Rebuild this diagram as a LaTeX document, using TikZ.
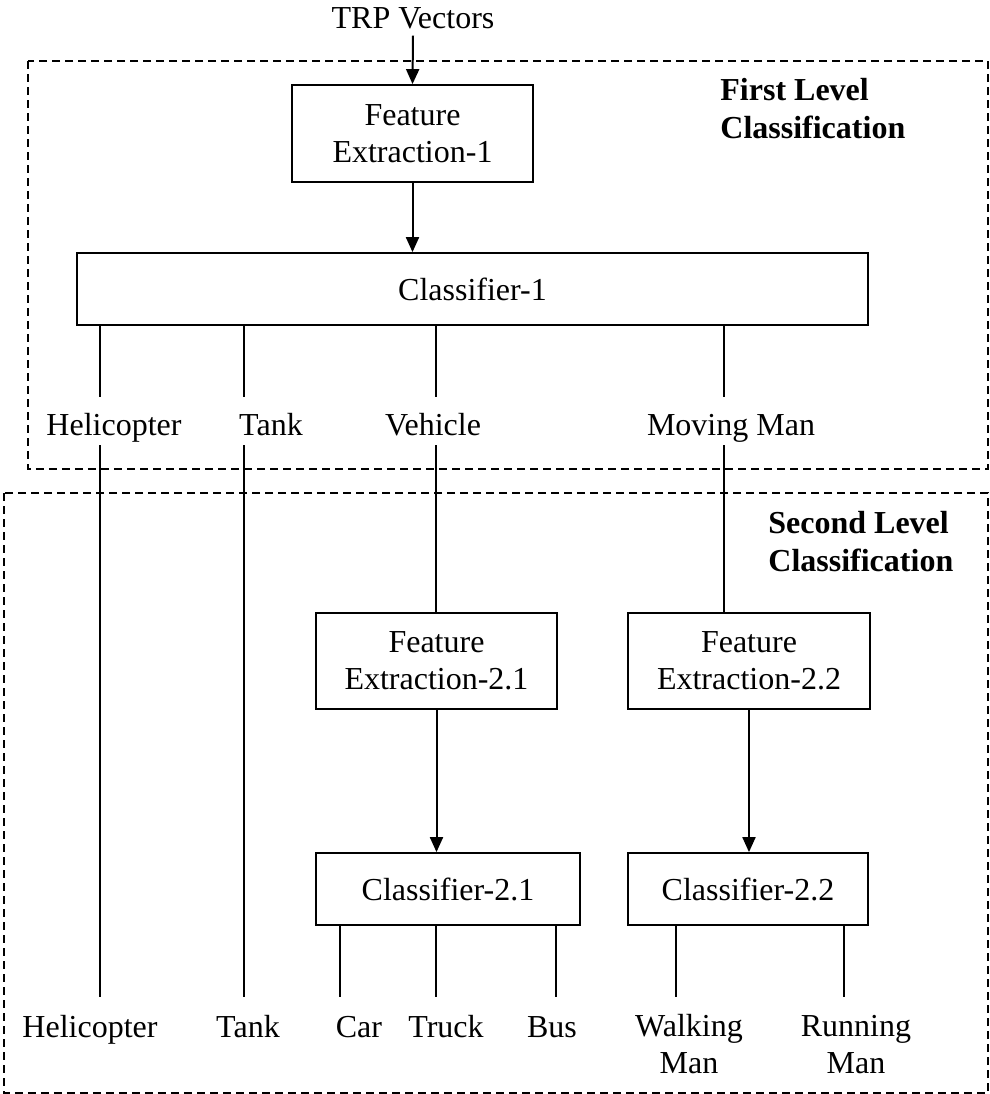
\documentclass[tikz,border=0pt]{standalone}
\usepackage{fontspec}
\setmainfont{Liberation Serif}
\usetikzlibrary{arrows.meta}
\begin{document}
\begin{tikzpicture}[x=0.5pt,y=-0.5pt,
  every node/.style={font=\fontsize{16}{18.5}\selectfont},
  boxnode/.style={draw,line width=0.9pt,align=center,inner sep=0pt},
  lbl/.style={anchor=base,inner sep=0pt,align=center},
  title/.style={anchor=base west,inner sep=0pt,align=left,font=\fontsize{16}{18.8}\selectfont\bfseries},
  link/.style={line width=0.75pt},
  arr/.style={line width=1pt,-{Triangle[width=6.5pt,length=7.5pt]}},
  frame/.style={line width=0.8pt,dash pattern=on 4pt off 2.5pt}]
\useasboundingbox (0,0) rectangle (990,1094);
% frames
\draw[frame] (28,61) rectangle (988,469);
\draw[frame] (4,493) rectangle (988,1093);
\node[title] (t1) at (720,138) {First Level\\Classification};
\node[title] (t2) at (768,571) {Second Level\\Classification};
% top
\node[anchor=base] (trp) at (413,28) {TRP Vectors};
\node[boxnode,minimum width=120.5pt,minimum height=48.5pt] (fe1) at (412.5,133.5) {Feature\\Extraction-1};
\node[boxnode,minimum width=395.5pt,minimum height=36pt] (c1) at (472.5,289) {Classifier-1};
\draw[arr] (trp.south) -- (fe1.north);
\draw[arr] (fe1.south) -- (c1.north -| fe1.south);
% first level labels
\node[lbl] (l1h) at (114,435) {Helicopter};
\node[lbl] (l1t) at (271,435) {Tank};
\node[lbl] (l1v) at (433,435) {Vehicle};
\node[lbl] (l1m) at (731,435) {Moving Man};
\coordinate (ah) at (100,397); \coordinate (bh) at (100,445);
\coordinate (at) at (244,397); \coordinate (bt) at (244,445);
\coordinate (av) at (436,397); \coordinate (bv) at (436,445);
\coordinate (am) at (724,397); \coordinate (bm) at (724,445);
\draw[link] (c1.south -| ah) -- (ah);
\draw[link] (c1.south -| at) -- (at);
\draw[link] (c1.south -| av) -- (av);
\draw[link] (c1.south -| am) -- (am);
% second level boxes
\node[boxnode,minimum width=120.5pt,minimum height=48pt] (fe21) at (436.5,661) {Feature\\Extraction-2.1};
\node[boxnode,minimum width=121pt,minimum height=48pt] (fe22) at (749,661) {Feature\\Extraction-2.2};
\node[boxnode,minimum width=132pt,minimum height=36pt] (c21) at (448,889) {Classifier-2.1};
\node[boxnode,minimum width=120pt,minimum height=36pt] (c22) at (748,889) {Classifier-2.2};
\draw[link] (bv) -- (fe21.north -| bv);
\draw[link] (bm) -- (fe22.north -| bm);
\draw[arr] (fe21.south) -- (c21.north -| fe21.south);
\draw[arr] (fe22.south) -- (c22.north -| fe22.south);
% bottom labels
\node[lbl] (bh1) at (90,1037) {Helicopter};
\node[lbl] (bt1) at (248,1037) {Tank};
\node[lbl] (bc) at (359,1037) {Car};
\node[lbl] (btr) at (446,1037) {Truck};
\node[lbl] (bb) at (552,1037) {Bus};
\node[lbl] (bw) at (689,1073) {Walking\\Man};
\node[lbl] (br) at (856,1073) {Running\\Man};
\coordinate (eh) at (100,997);
\coordinate (et) at (244,997);
\coordinate (ec) at (340,997);
\coordinate (etr) at (436,997);
\coordinate (eb) at (556,997);
\coordinate (ew) at (676,997);
\coordinate (er) at (844,997);
\draw[link] (bh) -- (eh);
\draw[link] (bt) -- (et);
\draw[link] (c21.south -| ec) -- (ec);
\draw[link] (c21.south -| etr) -- (etr);
\draw[link] (c21.south -| eb) -- (eb);
\draw[link] (c22.south -| ew) -- (ew);
\draw[link] (c22.south -| er) -- (er);
\end{tikzpicture}
\end{document}
